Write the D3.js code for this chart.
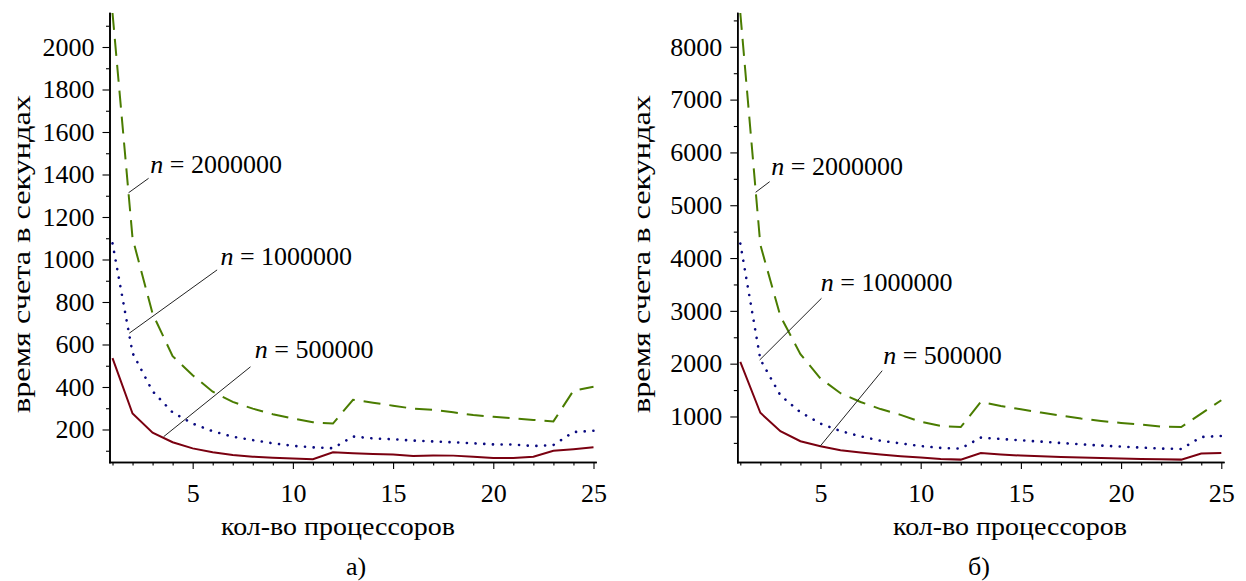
<!DOCTYPE html>
<html>
<head>
  <meta charset="UTF-8">
  <title>время счета</title>
  <style>
    body {
      margin: 0;
      padding: 0;
      background-color: white;
    }
    .axis path, .axis line {
      stroke: black;
    }
    .axis path {
      stroke-width: 1.6;
    }
    .axis line {
      stroke-width: 1.1;
    }
    .curve {
      fill: none;
    }
    .pointer {
      stroke: #222;
      stroke-width: 1;
    }
  </style>
</head>
<body>
  <div id="chart"></div>

  <script src="https://d3js.org/d3.v7.min.js"></script>
  <script>
    // number of processors (x axis)
    var procs = [1, 2, 3, 4, 5, 6, 7, 8, 9, 10, 11, 12, 13, 14, 15, 16, 17, 18, 19, 20, 21, 22, 23, 24, 25];

    // panel a) time in seconds
    var timeA500k = [536, 275, 185, 140, 111, 93, 80, 72, 67, 63, 60, 93, 88, 85, 82, 75, 78, 77, 72, 66, 66, 72, 100, 107, 116];
    var timeA1m = [1076, 560, 380, 280, 228, 192, 166, 150, 135, 123, 116, 112, 167, 158, 154, 148, 144, 140, 135, 130, 129, 122, 127, 188, 194];
    var timeA2m = [2160, 1100, 745, 545, 455, 378, 330, 298, 272, 252, 234, 228, 340, 326, 312, 298, 292, 281, 268, 260, 252, 245, 238, 383, 401];

    // panel б) time in seconds
    var timeB500k = [2032, 1070, 722, 532, 436, 360, 316, 278, 246, 221, 196, 183, 309, 280, 259, 246, 233, 221, 214, 202, 196, 189, 183, 297, 309];
    var timeB1m = [4275, 2080, 1400, 1080, 865, 725, 625, 540, 490, 440, 405, 392, 600, 574, 549, 524, 498, 473, 449, 430, 411, 392, 384, 612, 631];
    var timeB2m = [8640, 4250, 2900, 2180, 1720, 1440, 1275, 1140, 1030, 900, 820, 800, 1275, 1199, 1136, 1074, 1017, 960, 915, 877, 847, 809, 800, 1055, 1307];

    // tick labels
    var xMajorTicks = [5, 10, 15, 20, 25];
    var yMajorTicksA = [200, 400, 600, 800, 1000, 1200, 1400, 1600, 1800, 2000];
    var yMajorTicksB = [1000, 2000, 3000, 4000, 5000, 6000, 7000, 8000];

    var seriesNames = ["n = 500000", "n = 1000000", "n = 2000000"];

    // annotation anchors in data units: [x on curve, y on curve, x elbow, y elbow, x text, y text]
    var notesA = [
      [3.55, 166, 7.885, 495, 8.1, 535],
      [1.835, 653, 6.22, 951, 6.385, 974],
      [1.80, 1314, 2.80, 1382, 2.885, 1407]
    ];
    var notesB = [
      [4.965, 428, 8.08, 1867, 8.13, 1994],
      [1.965, 2069, 5.05, 3238, 5.015, 3382],
      [1.765, 5245, 2.465, 5446, 2.55, 5573]
    ];

    var width = 1246, height = 581;
    var serif = "Liberation Serif";
    var fontSize = 26;
    var styles = [
      {color: "#7a0010", width: 2, dash: null, cap: "butt"},
      {color: "#0a0a80", width: 2.6, dash: "0.1,8.6", cap: "round"},
      {color: "#4a7c00", width: 2, dash: "17,9", cap: "butt"}
    ];

    var svg = d3.select("#chart").append("svg")
                .attr("width", width)
                .attr("height", height)
                .style("background", "white");

    function addText(g, txt) {
      return g.append("text")
              .attr("font-family", serif)
              .attr("font-size", fontSize)
              .attr("fill", "black")
              .text(txt);
    }

    function drawPanel(p) {
      var g = svg.append("g");

      var x = d3.scaleLinear().domain([0.85, 25.1]).range([p.left, p.left + 486]);
      var y = d3.scaleLinear().domain(p.yDomain).range([462, 13]);

      var minorX = procs.filter(function(d) { return xMajorTicks.indexOf(d) < 0; });
      var minorY = d3.range(p.minorStep, p.yDomain[1], p.minorStep)
                     .filter(function(d) { return d >= p.yDomain[0] && p.yTicks.indexOf(d) < 0; });

      // minor ticks
      g.append("g")
       .attr("class", "axis")
       .attr("transform", "translate(0,462)")
       .call(d3.axisBottom(x).tickValues(minorX).tickSize(3.5).tickSizeOuter(0).tickFormat(""));
      g.append("g")
       .attr("class", "axis")
       .attr("transform", "translate(" + p.left + ",0)")
       .call(d3.axisLeft(y).tickValues(minorY).tickSize(3.5).tickSizeOuter(0).tickFormat(""));

      // major ticks
      g.append("g")
       .attr("class", "axis")
       .attr("transform", "translate(0,462)")
       .call(d3.axisBottom(x).tickValues(xMajorTicks).tickSize(7).tickPadding(15).tickSizeOuter(0).tickFormat(d3.format("d")));
      g.append("g")
       .attr("class", "axis")
       .attr("transform", "translate(" + p.left + ",0)")
       .call(d3.axisLeft(y).tickValues(p.yTicks).tickSize(7).tickPadding(8).tickSizeOuter(0).tickFormat(d3.format("d")));

      g.selectAll(".axis").attr("font-family", serif).attr("font-size", fontSize);
      g.selectAll(".axis text").attr("fill", "black");
      g.selectAll(".axis .domain").attr("stroke-linecap", "square");

      // curves
      var line = d3.line()
                   .x(function(d, i) { return x(procs[i]); })
                   .y(function(d) { return y(d); });

      p.series.forEach(function(s, k) {
        g.append("path")
         .datum(s)
         .attr("class", "curve")
         .attr("d", line)
         .attr("stroke", styles[k].color)
         .attr("stroke-width", styles[k].width)
         .attr("stroke-linecap", styles[k].cap)
         .attr("stroke-dasharray", styles[k].dash);
      });

      // annotations
      p.notes.forEach(function(n, k) {
        g.append("line")
         .attr("class", "pointer")
         .attr("x1", x(n[0])).attr("y1", y(n[1]))
         .attr("x2", x(n[2])).attr("y2", y(n[3]));
        var t = addText(g, "")
                 .attr("x", x(n[4]))
                 .attr("y", y(n[5]));
        t.append("tspan").attr("font-style", "italic").text("n");
        t.append("tspan").text(seriesNames[k].slice(1));
      });

      // axis titles
      addText(g, "время счета в секундах")
       .attr("transform", "translate(" + p.yLabelX + ",254) rotate(-90)")
       .attr("text-anchor", "middle")
       .attr("textLength", 318)
       .attr("lengthAdjust", "spacingAndGlyphs");

      addText(g, "кол-во процессоров")
       .attr("x", p.xLabelX)
       .attr("y", 535)
       .attr("text-anchor", "middle")
       .attr("textLength", 234)
       .attr("lengthAdjust", "spacingAndGlyphs");

      addText(g, p.caption)
       .attr("x", p.captionX)
       .attr("y", 575)
       .attr("text-anchor", "middle");
    }

    drawPanel({
      left: 109.5,
      yDomain: [47, 2160],
      yTicks: yMajorTicksA,
      minorStep: 100,
      series: [timeA500k, timeA1m, timeA2m],
      notes: notesA,
      yLabelX: 30,
      xLabelX: 338,
      captionX: 356,
      caption: "а)"
    });

    drawPanel({
      left: 737.3,
      yDomain: [138, 8640],
      yTicks: yMajorTicksB,
      minorStep: 500,
      series: [timeB500k, timeB1m, timeB2m],
      notes: notesB,
      yLabelX: 650,
      xLabelX: 1010,
      captionX: 979,
      caption: "б)"
    });
  </script>
</body>
</html>
